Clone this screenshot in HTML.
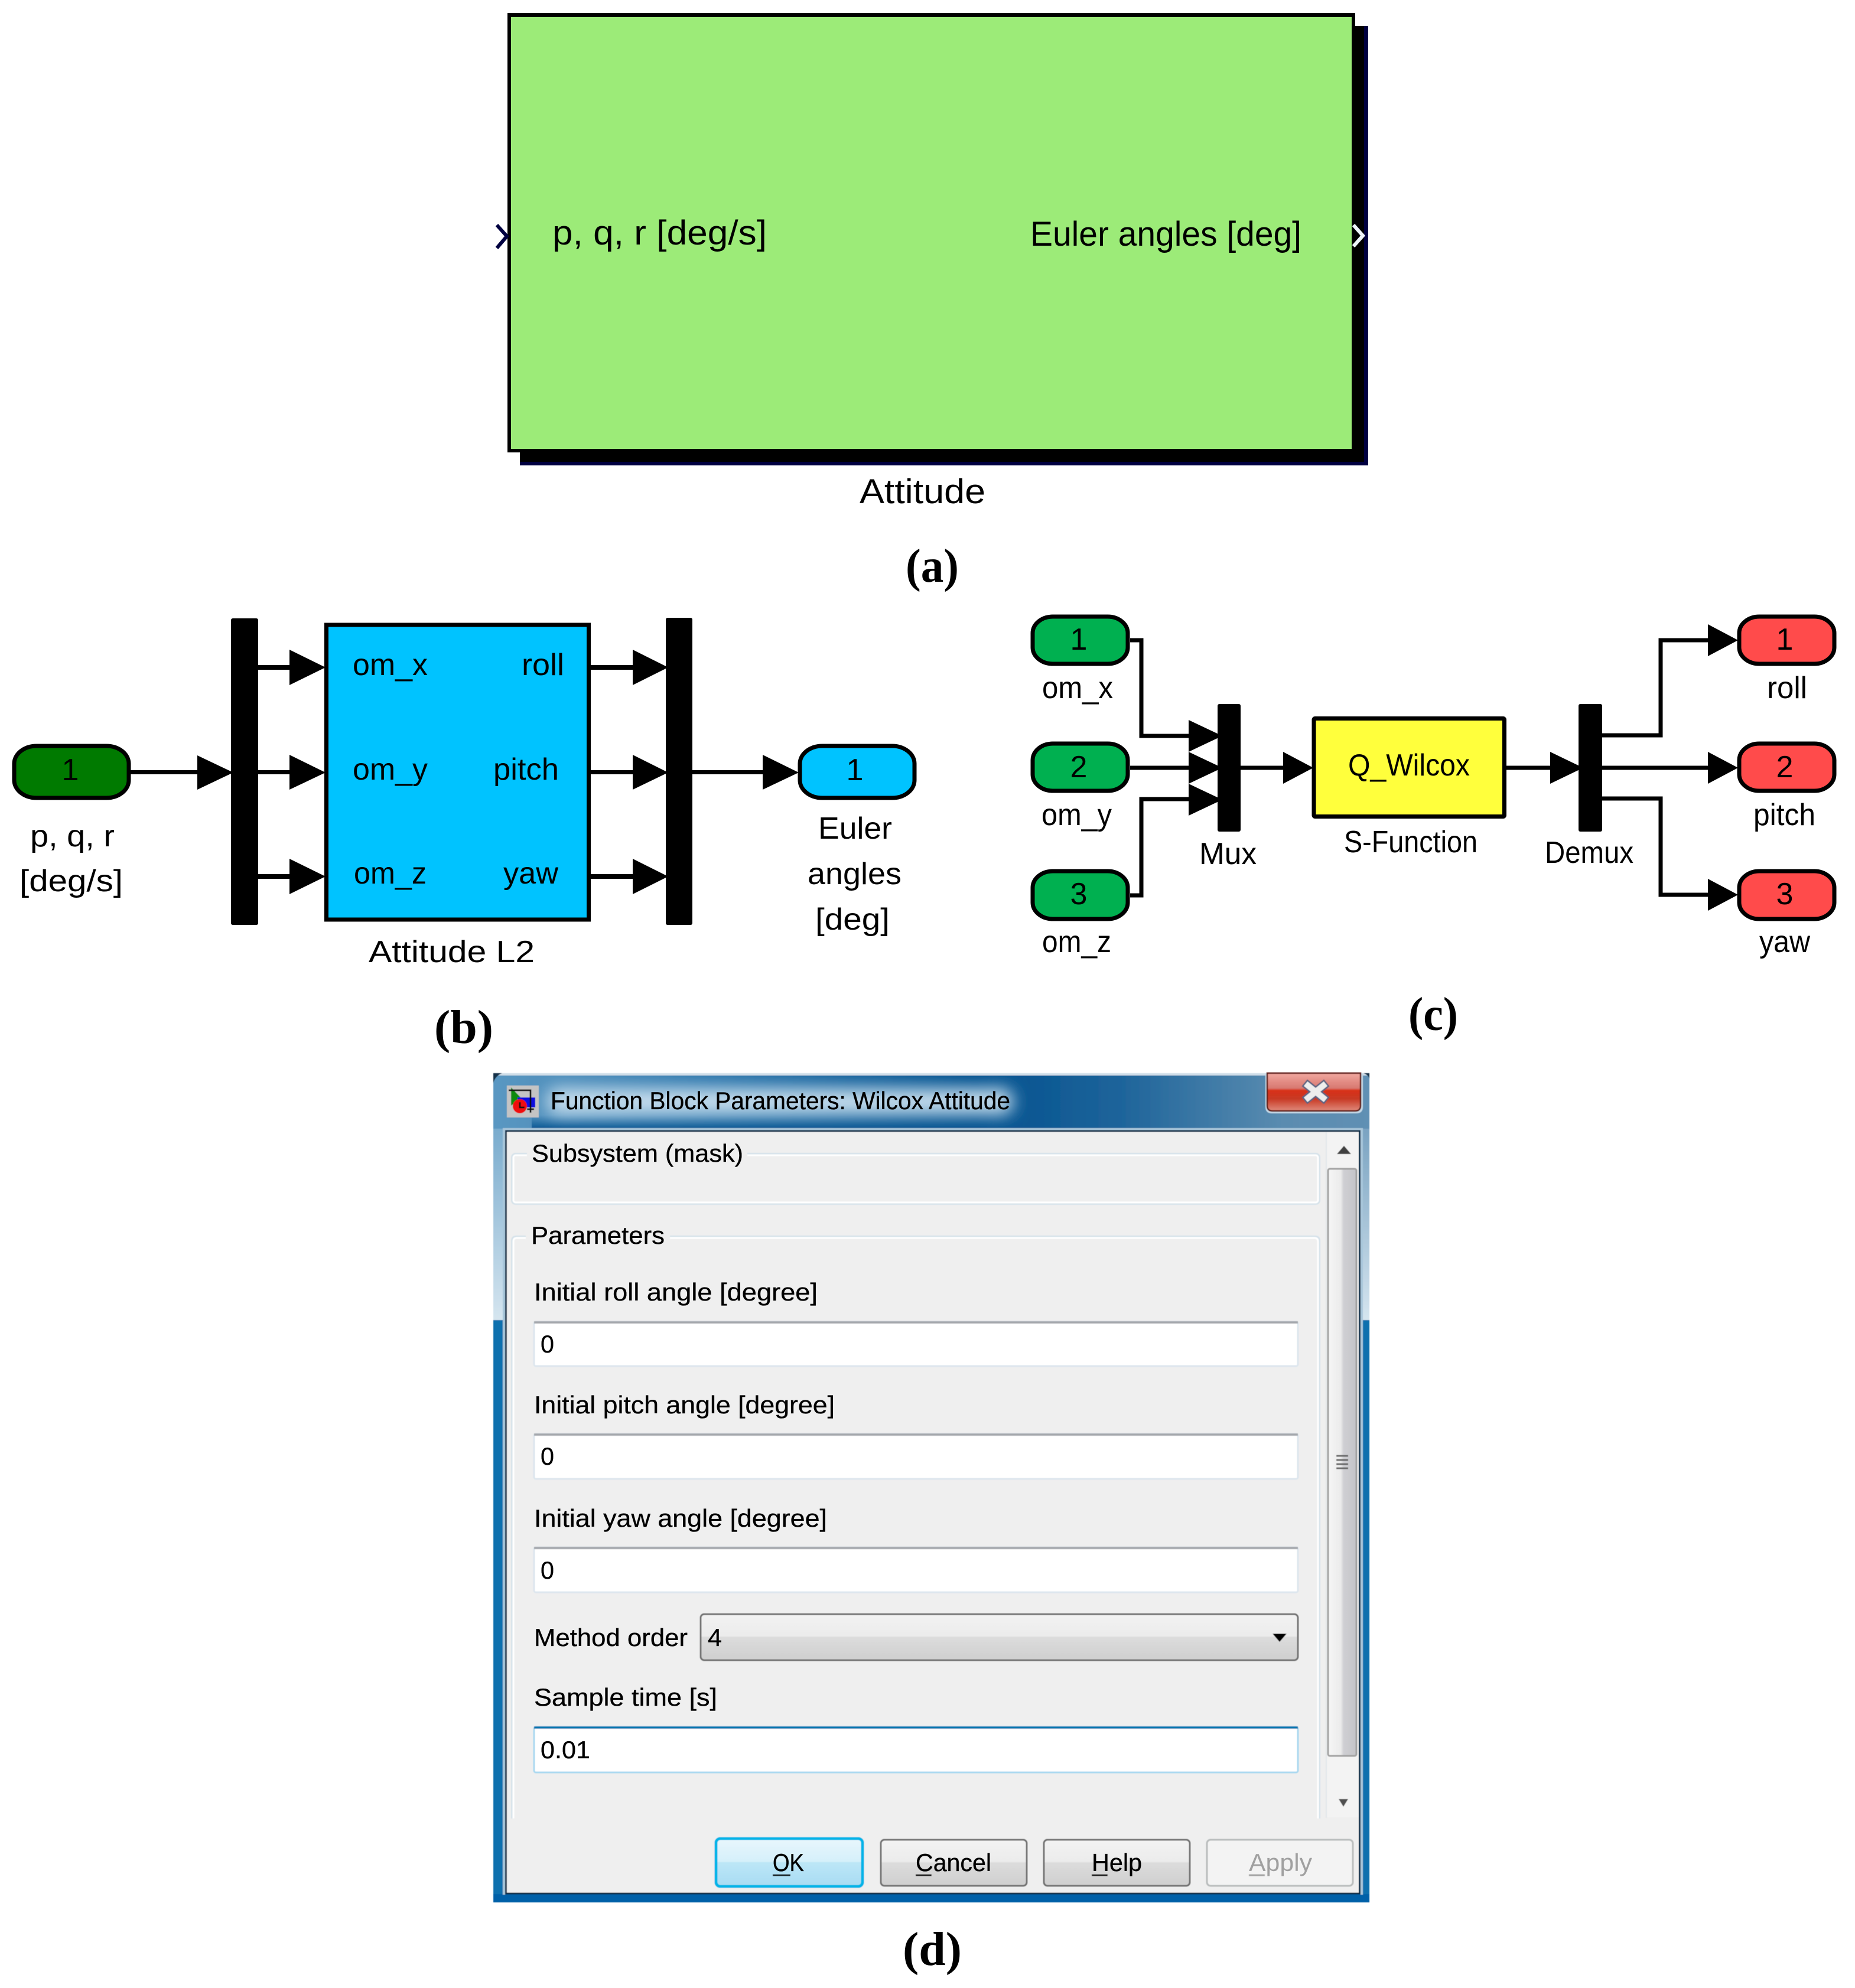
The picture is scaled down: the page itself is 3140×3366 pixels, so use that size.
<!DOCTYPE html>
<html><head><meta charset="utf-8"><title>Attitude block diagrams</title>
<style>
html,body{margin:0;padding:0;background:#fff}
svg{display:block}
text{font-family:"Liberation Sans",sans-serif;fill:#000}
.a{font-size:58px}
.b{font-size:52px}
.d{font-size:42px;stroke:#000;stroke-width:.35px}
.s{font-family:"Liberation Serif",serif;font-weight:bold;font-size:80px}
</style></head><body>
<svg xmlns="http://www.w3.org/2000/svg" width="3140" height="3366" viewBox="0 0 3140 3366">
<defs>
<linearGradient id="btn" x1="0" y1="0" x2="0" y2="1"><stop offset="0" stop-color="#f3f3f3"/><stop offset=".48" stop-color="#ebebeb"/><stop offset=".5" stop-color="#dcdcdc"/><stop offset="1" stop-color="#cfcfcf"/></linearGradient>
<linearGradient id="ok" x1="0" y1="0" x2="0" y2="1"><stop offset="0" stop-color="#e8f6fd"/><stop offset=".48" stop-color="#d5f0fa"/><stop offset=".5" stop-color="#bce6f7"/><stop offset="1" stop-color="#a8dcf3"/></linearGradient>
<linearGradient id="title" x1="0" y1="0" x2="1" y2="0"><stop offset="0" stop-color="#5b98c2"/><stop offset=".25" stop-color="#2f78ad"/><stop offset=".55" stop-color="#00508e"/><stop offset=".72" stop-color="#1f659b"/><stop offset=".9" stop-color="#5a8cb0"/><stop offset="1" stop-color="#6090b4"/></linearGradient>
<linearGradient id="sideL" x1="0" y1="0" x2="0" y2="1"><stop offset="0" stop-color="#5f9bc4"/><stop offset="1" stop-color="#d5e5ef"/></linearGradient>
<linearGradient id="sideR" x1="0" y1="0" x2="0" y2="1"><stop offset="0" stop-color="#6090b4"/><stop offset="1" stop-color="#d5e5ef"/></linearGradient>
<linearGradient id="close" x1="0" y1="0" x2="0" y2="1"><stop offset="0" stop-color="#f0a8a0"/><stop offset=".4" stop-color="#d87870"/><stop offset=".46" stop-color="#d83018"/><stop offset=".68" stop-color="#c83a24"/><stop offset="1" stop-color="#e08a7c"/></linearGradient>
<linearGradient id="thumb" x1="0" y1="0" x2="1" y2="0"><stop offset="0" stop-color="#f6f6f6"/><stop offset=".45" stop-color="#ebebeb"/><stop offset=".55" stop-color="#cfcfd3"/><stop offset="1" stop-color="#c4c4c8"/></linearGradient>
<linearGradient id="dark" x1="0" y1="0" x2="0" y2="1"><stop offset="0" stop-color="#00508e" stop-opacity="0"/><stop offset="1" stop-color="#00508e" stop-opacity=".85"/></linearGradient>
<filter id="glow" x="-10%" y="-50%" width="120%" height="200%"><feGaussianBlur stdDeviation="14"/></filter>
<filter id="soft" x="-2%" y="-2%" width="104%" height="104%"><feGaussianBlur stdDeviation="0.6"/></filter>
</defs>
<rect width="3140" height="3366" fill="#fff"/>

<!-- (a) -->
<rect x="880" y="44" width="1436" height="744" fill="#000040"/>
<rect x="880" y="44" width="1429" height="738" fill="#000"/>
<rect x="859" y="22" width="1435" height="744" fill="#000"/>
<rect x="865" y="29" width="1423" height="731" fill="#9ceb78"/>
<path d="M841 381 L858 400 L841 420" fill="none" stroke="#000040" stroke-width="6"/>
<path d="M2291 381 L2307 399 L2291 417" fill="none" stroke="#eef4fa" stroke-width="6"/>
<text class="a" x="935" y="414" textLength="363" lengthAdjust="spacingAndGlyphs">p, q, r  [deg/s]</text>
<text class="a" x="1744" y="416" textLength="459" lengthAdjust="spacingAndGlyphs">Euler angles [deg]</text>
<text class="a" x="1455" y="852" textLength="213" lengthAdjust="spacingAndGlyphs">Attitude</text>
<text class="s" x="1533" y="985" textLength="90" lengthAdjust="spacingAndGlyphs">(a)</text>

<!-- (b) -->
<g fill="#000" stroke="none">
<rect x="391" y="1047" width="46" height="519" rx="3"/>
<rect x="1127" y="1046" width="45" height="520" rx="3"/>
<rect x="221" y="1304" width="115" height="7"/>
<path d="M334 1279 L395 1308 L334 1337Z"/>
<rect x="437" y="1126" width="55" height="8"/><path d="M490 1100 L551 1130 L490 1160Z"/>
<rect x="437" y="1304" width="55" height="7"/><path d="M490 1278 L551 1308 L490 1337Z"/>
<rect x="437" y="1480" width="55" height="8"/><path d="M490 1454 L551 1484 L490 1514Z"/>
<rect x="1000" y="1126" width="73" height="8"/><path d="M1071 1100 L1131 1130 L1071 1160Z"/>
<rect x="1000" y="1304" width="73" height="7"/><path d="M1071 1278 L1131 1308 L1071 1337Z"/>
<rect x="1000" y="1480" width="73" height="8"/><path d="M1071 1454 L1131 1484 L1071 1514Z"/>
<rect x="1172" y="1304" width="121" height="7"/><path d="M1291 1278 L1352 1308 L1291 1337Z"/>
</g>
<rect x="24" y="1263" width="194" height="88" rx="38" ry="30" fill="#007a00" stroke="#000" stroke-width="7"/>
<rect x="1354" y="1263" width="194" height="88" rx="38" ry="30" fill="#00c3ff" stroke="#000" stroke-width="7"/>
<rect x="552.500" y="1058" width="444" height="499" fill="#00c3ff" stroke="#000" stroke-width="7"/>
<text class="b" x="119" y="1321" text-anchor="middle">1</text>
<text class="b" x="1447" y="1321" text-anchor="middle">1</text>
<text class="b" x="597" y="1143" textLength="127" lengthAdjust="spacingAndGlyphs">om_x</text>
<text class="b" x="883" y="1143" textLength="72" lengthAdjust="spacingAndGlyphs">roll</text>
<text class="b" x="597" y="1320" textLength="127" lengthAdjust="spacingAndGlyphs">om_y</text>
<text class="b" x="835" y="1320" textLength="111" lengthAdjust="spacingAndGlyphs">pitch</text>
<text class="b" x="599" y="1496" textLength="123" lengthAdjust="spacingAndGlyphs">om_z</text>
<text class="b" x="852" y="1496" textLength="93" lengthAdjust="spacingAndGlyphs">yaw</text>
<text class="b" x="624" y="1629" textLength="281" lengthAdjust="spacingAndGlyphs">Attitude L2</text>
<text class="b" x="51" y="1433" textLength="143" lengthAdjust="spacingAndGlyphs">p, q, r</text>
<text class="b" x="33" y="1509" textLength="175" lengthAdjust="spacingAndGlyphs">[deg/s]</text>
<text class="b" x="1385" y="1420" textLength="125" lengthAdjust="spacingAndGlyphs">Euler</text>
<text class="b" x="1367" y="1497" textLength="159" lengthAdjust="spacingAndGlyphs">angles</text>
<text class="b" x="1380" y="1574" textLength="126" lengthAdjust="spacingAndGlyphs">[deg]</text>
<text class="s" x="735" y="1766" textLength="100" lengthAdjust="spacingAndGlyphs">(b)</text>

<!-- (c) -->
<g fill="none" stroke="#000" stroke-width="7">
<path d="M1913 1084 H1932 V1246 H2016"/>
<path d="M1913 1300 H2016"/>
<path d="M1913 1516 H1932 V1353 H2016"/>
<path d="M2100 1300 H2175"/>
<path d="M2550 1300 H2627"/>
<path d="M2712 1245 H2811 V1084 H2893"/>
<path d="M2712 1300 H2893"/>
<path d="M2712 1352 H2811 V1515 H2893"/>
</g>
<g fill="#000">
<path d="M2012 1219 L2069 1246 L2012 1273Z"/>
<path d="M2012 1273 L2069 1300 L2012 1327Z"/>
<path d="M2012 1327 L2069 1354 L2012 1381Z"/>
<rect x="2061" y="1192" width="39" height="216" rx="3"/>
<rect x="2672" y="1192" width="40" height="216" rx="3"/>
<path d="M2172 1273 L2223 1300 L2172 1327Z"/>
<path d="M2624 1273 L2680 1300 L2624 1327Z"/>
<path d="M2891 1057 L2942 1084 L2891 1111Z"/>
<path d="M2891 1273 L2942 1300 L2891 1327Z"/>
<path d="M2891 1488 L2942 1515 L2891 1542Z"/>
</g>
<g stroke="#000" stroke-width="7" fill="#00b050">
<rect x="1748" y="1044" width="161" height="80" rx="34" ry="28"/>
<rect x="1748" y="1259" width="161" height="80" rx="34" ry="28"/>
<rect x="1748" y="1475" width="161" height="81" rx="34" ry="28"/>
</g>
<g stroke="#000" stroke-width="7" fill="#ff4b4b">
<rect x="2944" y="1044" width="161" height="80" rx="34" ry="28"/>
<rect x="2944" y="1259" width="161" height="80" rx="34" ry="28"/>
<rect x="2944" y="1475" width="161" height="81" rx="34" ry="28"/>
</g>
<rect x="2224" y="1216.500" width="322.500" height="166" rx="2" fill="#ffff3c" stroke="#000" stroke-width="7"/>
<text class="b" x="1826" y="1100" text-anchor="middle">1</text>
<text class="b" x="1826" y="1316" text-anchor="middle">2</text>
<text class="b" x="1826" y="1531" text-anchor="middle">3</text>
<text class="b" x="3021" y="1100" text-anchor="middle">1</text>
<text class="b" x="3021" y="1316" text-anchor="middle">2</text>
<text class="b" x="3021" y="1531" text-anchor="middle">3</text>
<text class="b" x="1764" y="1182" textLength="120" lengthAdjust="spacingAndGlyphs">om_x</text>
<text class="b" x="1763" y="1397" textLength="119" lengthAdjust="spacingAndGlyphs">om_y</text>
<text class="b" x="1764" y="1612" textLength="117" lengthAdjust="spacingAndGlyphs">om_z</text>
<text class="b" x="2991" y="1182" textLength="68" lengthAdjust="spacingAndGlyphs">roll</text>
<text class="b" x="2968" y="1397" textLength="105" lengthAdjust="spacingAndGlyphs">pitch</text>
<text class="b" x="2978" y="1612" textLength="86" lengthAdjust="spacingAndGlyphs">yaw</text>
<text class="b" x="2282" y="1313" textLength="206" lengthAdjust="spacingAndGlyphs">Q_Wilcox</text>
<text class="b" x="2275" y="1443" textLength="226" lengthAdjust="spacingAndGlyphs">S-Function</text>
<text class="b" x="2030" y="1463" textLength="97" lengthAdjust="spacingAndGlyphs">Mux</text>
<text class="b" x="2615" y="1461" textLength="150" lengthAdjust="spacingAndGlyphs">Demux</text>
<text class="s" x="2384" y="1744" textLength="84" lengthAdjust="spacingAndGlyphs">(c)</text>

<!-- (d) dialog shapes -->
<g filter="url(#soft)">
<rect x="835" y="2235" width="1483" height="986" fill="#0a6fae"/>
<rect x="835" y="1817" width="20" height="418" fill="url(#sideL)"/>
<rect x="2303" y="1817" width="15" height="418" fill="url(#sideR)"/>
<rect x="835" y="3207" width="1483" height="14" fill="#0060a8"/>
<rect x="835" y="1817" width="1483" height="94" fill="url(#title)"/>
<rect x="900" y="1888" width="760" height="22" fill="url(#dark)"/>
<rect x="925" y="1842" width="790" height="46" rx="20" fill="#c4dcec" filter="url(#glow)"/>
<rect x="835" y="1817" width="1483" height="4" fill="#cfdde8"/>
<path d="M835 1817 H850 Q838 1822 835 1834Z" fill="#12304a"/>
<path d="M2318 1817 H2308 Q2316 1820 2318 1826Z" fill="#12304a"/>
<rect x="851" y="1910" width="1456" height="4" fill="#a8c6da"/>
<rect x="851" y="1910" width="4" height="1298" fill="#a8c6da"/>
<rect x="2303" y="1910" width="4" height="1298" fill="#a8c6da"/>
<rect x="856.500" y="1915" width="1445" height="1291" fill="#efefef" stroke="#0f2f48" stroke-width="3"/>
<!-- icon -->
<rect x="858" y="1838" width="54" height="54" fill="#c4c4c4"/>
<path d="M865 1841 L883 1860 L865 1872Z" fill="#0a8a10"/>
<rect x="876" y="1858" width="30" height="17" fill="#1010e0"/>
<circle cx="880" cy="1873" r="12" fill="#f01010"/>
<path d="M861 1846 H898 V1884 M892 1878 H904 M880 1866 V1875 H888" fill="none" stroke="#111" stroke-width="3"/>
<!-- close -->
<path d="M2142 1817 V1874 Q2142 1885 2153 1885 H2296 Q2307 1885 2307 1874 V1817Z" fill="#c4d8e6"/>
<path d="M2145 1817 V1872 Q2145 1881 2154 1881 H2294 Q2303 1881 2303 1872 V1817Z" fill="url(#close)" stroke="#5e1c18" stroke-width="2.500"/>
<path d="M2214 1838 L2240 1859 M2240 1838 L2214 1859" stroke="#566080" stroke-width="15" stroke-linecap="square"/>
<path d="M2214 1838 L2240 1859 M2240 1838 L2214 1859" stroke="#eeeeee" stroke-width="10" stroke-linecap="square"/>

<!-- scrollbar -->
<rect x="2246" y="1917" width="54" height="1160" fill="#f3f3f3"/>
<path d="M2245 1917 V3078" stroke="#e2e6e9" stroke-width="2"/>
<rect x="2248" y="1979" width="48" height="994" rx="3" fill="url(#thumb)" stroke="#a0a0a0" stroke-width="3"/>
<path d="M2263 1954 L2275 1940 L2287 1954Z" fill="#404040"/>
<path d="M2266 3046 L2282 3046 L2274 3059Z" fill="#505050"/>
<path d="M2262 2465 H2282 M2262 2472 H2282 M2262 2479 H2282 M2262 2486 H2282" stroke="#666" stroke-width="3"/>

<!-- groups -->
<rect x="866.500" y="1953.500" width="1367" height="85" rx="6" fill="none" stroke="#d6e2ea" stroke-width="3"/>
<rect x="869" y="1956" width="1362" height="80" rx="4" fill="none" stroke="#fff" stroke-width="3"/>
<rect x="892" y="1945" width="373" height="16" fill="#efefef"/>
<path d="M866.500 3079 V2101 Q866.500 2093.500 874 2093.500 H2226 Q2233.500 2093.500 2233.500 2101 V3079" fill="none" stroke="#d6e2ea" stroke-width="3"/>
<path d="M869 3079 V2102 Q869 2096 875 2096 H2225 Q2231 2096 2231 2102 V3079" fill="none" stroke="#fff" stroke-width="3"/>
<rect x="890" y="2085" width="244" height="16" fill="#efefef"/>

<!-- fields -->
<rect x="904" y="2238" width="1293" height="75" rx="3" fill="#fff" stroke="#dde6ee" stroke-width="3"/>
<path d="M904 2239 H2197" stroke="#a5a8ad" stroke-width="4"/>
<rect x="904" y="2428" width="1293" height="76" rx="3" fill="#fff" stroke="#dde6ee" stroke-width="3"/>
<path d="M904 2429 H2197" stroke="#a5a8ad" stroke-width="4"/>
<rect x="904" y="2620" width="1293" height="76" rx="3" fill="#fff" stroke="#dde6ee" stroke-width="3"/>
<path d="M904 2621 H2197" stroke="#a5a8ad" stroke-width="4"/>
<rect x="1186" y="2733" width="1011" height="78" rx="6" fill="url(#btn)" stroke="#707070" stroke-width="3"/>
<path d="M2154 2766 H2178 L2166 2780Z" fill="#000"/>
<rect x="904" y="2924" width="1293" height="77" rx="3" fill="#fff" stroke="#a8d8f0" stroke-width="3"/>
<path d="M904 2925 H2197" stroke="#0078b0" stroke-width="4"/>

<!-- buttons -->
<rect x="1212" y="3113" width="248" height="81" rx="7" fill="url(#ok)" stroke="#00b4e8" stroke-width="5"/>
<rect x="1491" y="3115" width="247" height="78" rx="6" fill="url(#btn)" stroke="#707070" stroke-width="3"/>
<rect x="1767" y="3115" width="247" height="78" rx="6" fill="url(#btn)" stroke="#707070" stroke-width="3"/>
<rect x="2043" y="3115" width="247" height="78" rx="6" fill="#f3f3f3" stroke="#b8bcbc" stroke-width="3"/>
<path d="M1308 3175 H1338" stroke="#000" stroke-width="3"/>
<path d="M1550 3175 H1577" stroke="#000" stroke-width="3"/>
<path d="M1848 3175 H1875" stroke="#000" stroke-width="3"/>
<path d="M2114 3175 H2141" stroke="#a0a0a0" stroke-width="3"/>
</g>

<!-- (d) dialog text -->
<text class="d" x="932" y="1878" textLength="778" lengthAdjust="spacingAndGlyphs">Function Block Parameters: Wilcox Attitude</text>
<text class="d" x="900" y="1967" textLength="358" lengthAdjust="spacingAndGlyphs">Subsystem (mask)</text>
<text class="d" x="899" y="2106" textLength="226" lengthAdjust="spacingAndGlyphs">Parameters</text>
<text class="d" x="904" y="2202" textLength="480" lengthAdjust="spacingAndGlyphs">Initial roll angle [degree]</text>
<text class="d" x="915" y="2290" textLength="23" lengthAdjust="spacingAndGlyphs">0</text>
<text class="d" x="904" y="2393" textLength="509" lengthAdjust="spacingAndGlyphs">Initial pitch angle [degree]</text>
<text class="d" x="915" y="2480" textLength="23" lengthAdjust="spacingAndGlyphs">0</text>
<text class="d" x="904" y="2585" textLength="496" lengthAdjust="spacingAndGlyphs">Initial yaw angle [degree]</text>
<text class="d" x="915" y="2673" textLength="23" lengthAdjust="spacingAndGlyphs">0</text>
<text class="d" x="904" y="2787" textLength="260" lengthAdjust="spacingAndGlyphs">Method order</text>
<text class="d" x="1198" y="2787" textLength="24" lengthAdjust="spacingAndGlyphs">4</text>
<text class="d" x="904" y="2888" textLength="310" lengthAdjust="spacingAndGlyphs">Sample time [s]</text>
<text class="d" x="915" y="2977" textLength="84" lengthAdjust="spacingAndGlyphs">0.01</text>
<text class="d" x="1308" y="3168" textLength="53" lengthAdjust="spacingAndGlyphs">OK</text>
<text class="d" x="1550" y="3168" textLength="128" lengthAdjust="spacingAndGlyphs">Cancel</text>
<text class="d" x="1848" y="3168" textLength="85" lengthAdjust="spacingAndGlyphs">Help</text>
<text class="d" x="2114" y="3168" textLength="107" lengthAdjust="spacingAndGlyphs" style="fill:#a0a0a0;stroke:none">Apply</text>

<text class="s" x="1528" y="3327" textLength="100" lengthAdjust="spacingAndGlyphs">(d)</text>
</svg>
</body></html>
